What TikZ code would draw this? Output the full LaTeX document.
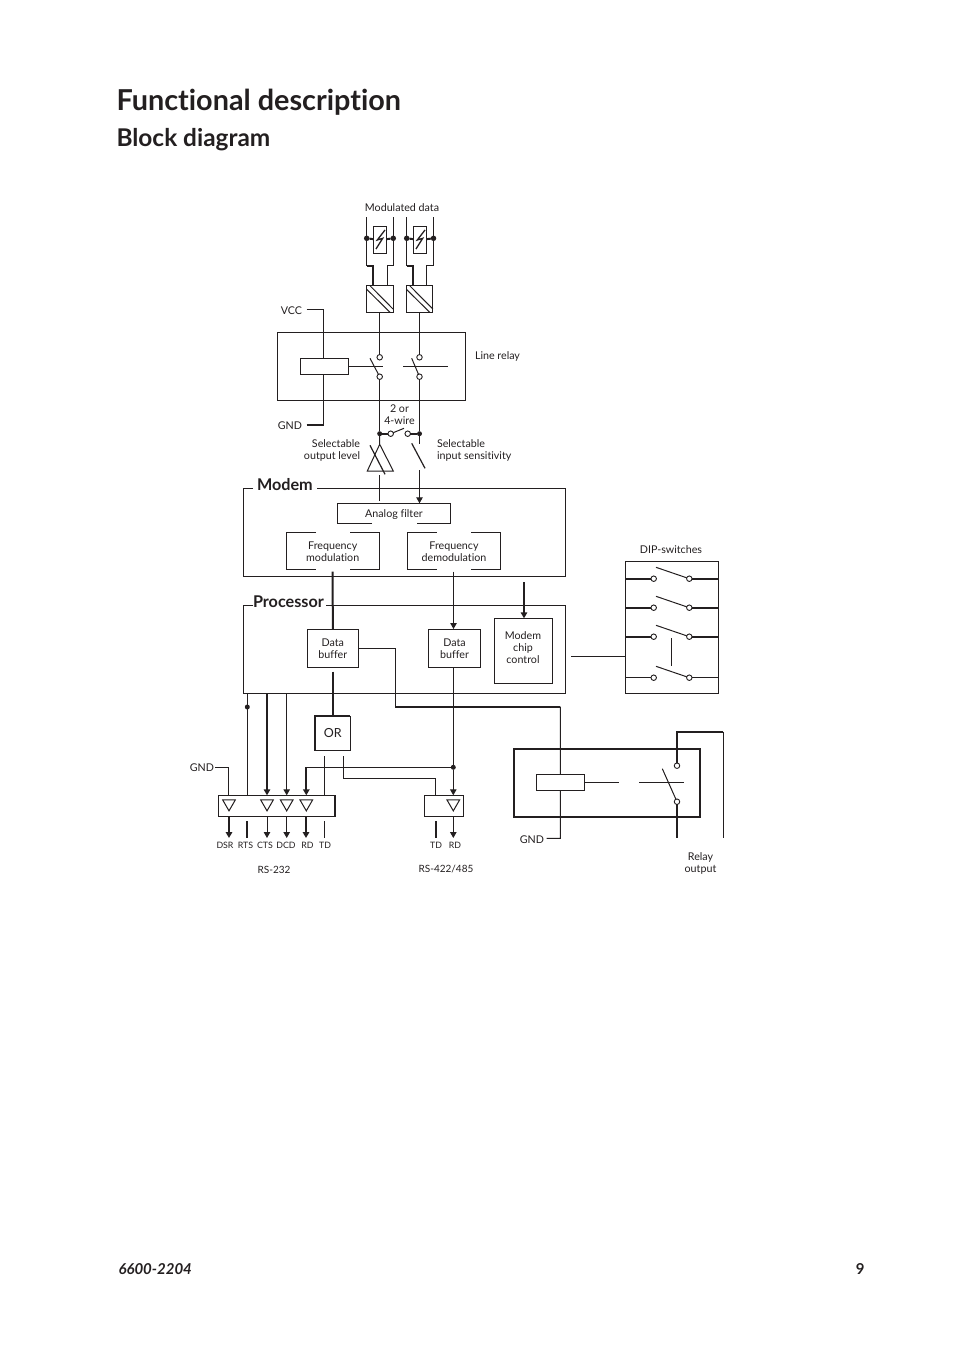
\documentclass[tikz,border=0pt]{standalone}
\usepackage{fontspec}
\setmainfont[Ligatures=NoCommon]{Lato}
\usetikzlibrary{shapes,arrows.meta,positioning}
\definecolor{ink}{HTML}{231F20}

\newcommand{\labelfont}{\fontsize{10.7}{12}\selectfont}
\newcommand{\tinyfont}{\fontsize{8.8}{10}\selectfont}
\newcommand{\headfont}{\fontsize{16.2}{17}\selectfont\bfseries}

\tikzset{
  every path/.style={color=ink,line width=1pt},
  box/.style={draw,rectangle,inner sep=0pt,outer sep=0pt,align=center,font=\labelfont,text=ink},
  heavy/.style={line width=2pt},
  dot/.style={circle,fill,inner sep=0pt,minimum size=5.5pt,outer sep=0pt},
  port/.style={circle,draw,fill=white,inner sep=0pt,minimum size=5.5pt,outer sep=0pt,line width=0.9pt},
  tri/.style={draw,regular polygon,regular polygon sides=3,shape border rotate=180,minimum size=14.5pt,inner sep=0pt,outer sep=0pt},
  lbl/.style={inner sep=0pt,outer sep=0pt,text=ink,align=center,font=\labelfont},
  tiny/.style={inner sep=0pt,outer sep=0pt,text=ink,font=\tinyfont},
  head/.style={inner sep=0pt,outer sep=0pt,text=ink,anchor=west,font=\headfont},
  tip/.style={-{Triangle[length=6pt,width=6.5pt]}}
}

\begin{document}
\begin{tikzpicture}[x=1pt,y=-1pt]
\useasboundingbox (0,0) rectangle (954,1354);

\node[inner sep=0pt,anchor=base west,text=ink,font=\fontsize{28.8}{30}\selectfont\bfseries] (title) at (116,110.5) {Functional description};
\node[inner sep=0pt,anchor=base west,text=ink,font=\fontsize{24.4}{26}\selectfont\bfseries] (subtitle) at (116,146.7) {Block diagram};
\node[inner sep=0pt,anchor=base west,text=ink,font=\fontsize{15}{17}\selectfont\bfseries\itshape] (docno) at (118,1274) {6600-2204};
\node[inner sep=0pt,anchor=base east,text=ink,font=\fontsize{15}{17}\selectfont\bfseries] (pageno) at (865,1274) {9};

\node[lbl] (moddata) at (402,207.5) {Modulated data};
\node[lbl,anchor=east] (vcc) at (302,310.5) {VCC};
\node[lbl,anchor=east] (gndline) at (302,425.5) {GND};
\node[lbl,anchor=west] (linerelay) at (475,356) {Line relay};
\node[lbl] (wire24) at (399.5,415) {2 or\\4-wire};
\node[lbl,anchor=east,align=right] (outlevel) at (360,450) {Selectable\\output level};
\node[lbl,anchor=west,align=left] (insens) at (437,450) {Selectable\\input sensitivity};
\node[lbl] (dip) at (671,549.5) {DIP-switches};
\node[lbl,anchor=east] (gndrs) at (214,767.5) {GND};
\node[lbl,anchor=east] (gndrelay) at (544,839.5) {GND};
\node[lbl] (relayout) at (700.5,863) {Relay\\output};
\node[lbl,font=\fontsize{10}{12}\selectfont] (rs232) at (274,869.5) {RS-232};
\node[lbl,font=\fontsize{10}{12}\selectfont] (rs422) at (446,869.5) {RS-422/485};
\node[tiny] (lbldsr) at (225,845) {DSR};
\node[tiny] (lblrts) at (245.5,845) {RTS};
\node[tiny] (lblcts) at (265,845) {CTS};
\node[tiny] (lbldcd) at (286,845) {DCD};
\node[tiny] (lblrd) at (307.5,845) {RD};
\node[tiny] (lbltd) at (325,845) {TD};
\node[tiny] (lbltdb) at (436,845) {TD};
\node[tiny] (lblrdb) at (455,845) {RD};

\draw (253,488.3) -| (243.3,576.3) -| (565.7,488.3) -- (317,488.3);
\node[head] (modem) at (257,484.5) {Modem};
\draw (253.3,605.3) -| (243.3,693.3) -| (565.7,605.3) -- (326,605.3);
\node[head] (proc) at (253,601.5) {Processor};

\node[box,minimum width=13.4pt,minimum height=26.7pt] (gdta) at (380,240) {};
\node[box,minimum width=13.4pt,minimum height=26.7pt] (gdtb) at (420,240) {};
\node[dot] (dotal) at (366.7,238.3) {};
\node[dot] (dotar) at (393.3,238.3) {};
\node[dot] (dotbl) at (406.7,238.3) {};
\node[dot] (dotbr) at (433.5,238.3) {};
\node[box,minimum width=26.6pt,minimum height=26.6pt] (transa) at (379.7,299) {};
\node[box,minimum width=26.6pt,minimum height=26.6pt] (transb) at (419.5,299) {};
\node[box,minimum width=188pt,minimum height=68pt,line width=1.3pt] (relaybox) at (371.3,366.3) {};
\node[box,minimum width=48pt,minimum height=16pt,line width=1.5pt] (coil) at (324.7,366.3) {};
\node[port] (ra) at (379.7,357.3) {};
\node[port] (rb) at (379.7,376.7) {};
\node[port] (rc) at (419.5,357.3) {};
\node[port] (rd) at (419.5,376.7) {};
\node[dot,minimum size=5pt] (joina) at (379.7,433.7) {};
\node[dot,minimum size=5pt] (joinb) at (419.5,433.7) {};
\node[port] (wsa) at (390.7,433.7) {};
\node[port] (wsb) at (407.7,433.7) {};

\node[lbl] (afilt) at (394,514.3) {Analog filter};
\node[lbl] (fmod) at (332.7,551.8) {Frequency\\modulation};
\node[lbl] (fdem) at (454,551.8) {Frequency\\demodulation};
\node[box,minimum width=51pt,minimum height=38.7pt] (bufa) at (332.8,648.4) {Data\\buffer};
\node[box,minimum width=52.4pt,minimum height=38.7pt] (bufb) at (454.5,648.4) {Data\\buffer};
\node[box,minimum width=58.4pt,minimum height=65pt] (chip) at (523.5,650.8) {};
\node[lbl] (chiptxt) at (523,647.5) {Modem\\chip\\control};
\node[box,minimum width=93.4pt,minimum height=132pt] (dipbox) at (672,627.3) {};
\node[box,minimum width=35.3pt,minimum height=34.6pt,font=\fontsize{12.5}{14}\selectfont] (orgate) at (332.7,733.3) {OR};
\node[box,minimum width=117pt,minimum height=21pt] (rsa) at (276.8,805.8) {};
\node[box,minimum width=39.4pt,minimum height=21pt] (rsb) at (444,805.8) {};
\node[box,minimum width=186.3pt,minimum height=67.7pt,line width=2pt] (outrelay) at (607.2,782.9) {};
\node[box,minimum width=47.6pt,minimum height=16pt,line width=1.5pt] (coilb) at (560.5,782.3) {};
\node[port] (oa) at (677,765.7) {};
\node[port] (ob) at (677,801.7) {};

\node[tri] (tdsr) at (229,803.6) {};
\node[tri] (tcts) at (267,803.6) {};
\node[tri] (tdcd) at (286.7,803.6) {};
\node[tri] (trd) at (306.3,803.6) {};
\node[tri] (trdb) at (453.3,803.6) {};
\node[dot,minimum size=5pt] (dotdsr) at (247.3,707) {};
\node[dot,minimum size=5pt] (dotrd) at (453.3,767.3) {};

\node[port] (dla) at (653.7,578.7) {};
\node[port] (dra) at (689.3,578.7) {};
\node[port] (dlb) at (653.7,607.7) {};
\node[port] (drb) at (689.3,607.7) {};
\node[port] (dlc) at (653.7,636.7) {};
\node[port] (drc) at (689.3,636.7) {};
\node[port] (dld) at (653.7,677.7) {};
\node[port] (drd) at (689.3,677.7) {};

\coordinate (ctop1) at (366.7,217);
\coordinate (ctop2) at (393.3,217);
\coordinate (ctop3) at (406.7,217);
\coordinate (ctop4) at (433.5,217);

\draw (ctop1) -- (dotal);
\draw (ctop2) -- (dotar);
\draw (ctop3) -- (dotbl);
\draw (ctop4) -- (dotbr);
\draw[heavy] (dotal) -- (gdta);
\draw[heavy] (dotar) -- (gdta);
\draw[heavy] (dotbl) -- (gdtb);
\draw[heavy] (dotbr) -- (gdtb);
\draw (dotal) -- (366.7,265.7);
\draw (dotar) -- (393.3,265.7);
\draw (dotbl) -- (406.7,265.7);
\draw (dotbr) -- (433.5,265.7);
\draw[heavy] (366.7,265.7) -- (373.3,265.7) -- (373.3,285.7);
\draw (393.3,265.7) -- (387.3,265.7) -- (387.3,285.7);
\draw[heavy] (406.7,265.7) -- (413.3,265.7) -- (413.3,285.7);
\draw (433.5,265.7) -- (426.7,265.7) -- (426.7,285.7);
\draw[line width=1.3pt] (385,230) -- (377.3,240) -- (382.7,238.3) -- (376,249);
\draw[line width=1.3pt] (425,230) -- (417.3,240) -- (422.7,238.3) -- (416,249);
\draw (366.7,289.3) -- (390,312.3);
\draw (370,285.7) -- (393,309);
\draw (406.4,289.3) -- (429.7,312.3);
\draw (409.7,285.7) -- (432.8,309);

\draw (transa) -- (ra);
\draw (transb) -- (rc);
\draw[line width=1.4pt] (vcc.east) ++(4.7,-1.2) -- (323.3,309.3) -- (323.3,358.3);
\draw[line width=1.4pt] (gndline.east) ++(4.7,-0.5) -- (323.3,425) -- (323.3,374.3);
\draw (coil.east) -- (383.3,366.3);
\draw (403.3,366.3) -- (447.7,366.3);
\draw (370,358.3) -- (rb);
\draw (411.7,358.3) -- (rd);
\draw (rb) -- (joina);
\draw (rd) -- (joinb);
\draw[heavy] (joina) -- (wsa);
\draw[heavy] (joinb) -- (wsb);
\draw (wsa) -- (404,428.3);

\draw (joina) -- (379.7,444.3) -- (393.3,471) -- (367.3,471) -- (379.7,444.3);
\draw[line width=1.2pt] (370,445.3) -- (385,474.3);
\draw (379.7,475) -- (379.7,501);
\draw (joinb) -- (419.5,444);
\draw[line width=1.2pt] (411.7,443.3) -- (425,468.3);
\draw[tip] (419.5,470) -- (419.5,503.3);

\draw (372,523.3) -| (337.3,503.3) -| (450.7,523.3) -- (416.7,523.3);
\draw (316,532.3) -| (286,569.7) -- (316,569.7);
\draw (350,532.3) -| (379.3,569.7) -- (350,569.7);
\draw (436.7,532.3) -| (407.3,569.7) -- (436.7,569.7);
\draw (471,532.3) -| (500.7,569.7) -- (471,569.7);

\draw[heavy] (332.7,571.7) -- (bufa);
\draw[tip] (453.5,571.7) -- (453.5,629);
\draw[heavy,tip] (524,582.3) -- (524,618.3);
\draw (bufa.east |- 0,648) -- (395.3,648) -- (395.3,706.7);
\draw[heavy] (395.3,706.7) -- (560.3,706.7);
\draw (560.3,706.7) -- (coilb);
\draw (coilb) -- (560.3,838.3) -- (546.7,838.3);
\draw[heavy] (332.7,671.7) -- (orgate);
\draw[heavy] (orgate.south west) -- (orgate.north west) -- (orgate.north east);
\draw (bufb.south -| 453.3,0) -- (dotrd);
\draw[tip] (dotrd) -- (453.3,795.3);
\draw (dotrd) -- (306.3,767.3);
\draw[heavy,tip] (306.3,767.3) -- (306.3,795.3);
\draw (324.3,756) -- (324.3,795.3);
\draw (343.3,756) -- (343.3,778.3) -- (435.7,778.3) -- (435.7,795.3);

\draw (247.3,693.3) -- (247.3,795.3);
\draw[heavy,tip] (267,693.3) -- (267,795.3);
\draw[tip] (286.7,693.3) -- (286.7,795.3);
\draw (gndrs.east) ++(1,-0.2) -| (228.3,795.3);

\draw[heavy,tip] (229,816.3) -- (229,838);
\draw[heavy] (247,821) -- (247,838);
\draw[tip] (267,816.3) -- (267,838);
\draw[tip] (286.7,816.3) -- (286.7,838);
\draw[heavy,tip] (306,816.3) -- (306,838);
\draw (324.3,821) -- (324.3,838);
\draw[heavy] (436,821) -- (436,838);
\draw[tip] (453.3,816.3) -- (453.3,838);
\draw[heavy] (335,795.3) -- (335,816.3);

\draw (571,656.7) -- (dipbox.west |- 0,656.7);
\draw[heavy] (625.3,578.7) -- (dla);
\draw[heavy] (dra) -- (718.7,578.7);
\draw[heavy] (625.3,607.7) -- (dlb);
\draw[heavy] (drb) -- (718.7,607.7);
\draw[heavy] (625.3,636.7) -- (dlc);
\draw[heavy] (drc) -- (718.7,636.7);
\draw (625.3,677.7) -- (dld);
\draw (drd) -- (718.7,677.7);
\draw (656,567.3) -- (dra);
\draw (656,596.3) -- (drb);
\draw (656,625.3) -- (drc);
\draw (656,666.3) -- (drd);
\draw (671.7,638) -- (671.7,666);

\draw (coilb.east) -- (619,782.3);
\draw (639,782.3) -- (683.7,782.3);
\draw (662.3,768.7) -- (ob);
\draw[heavy] (oa) -- (677,731.7) -- (723.3,731.7);
\draw (723.3,731.7) -- (723.3,837.7);
\draw[heavy] (ob) -- (677,837.7);
\end{tikzpicture}
\end{document}
